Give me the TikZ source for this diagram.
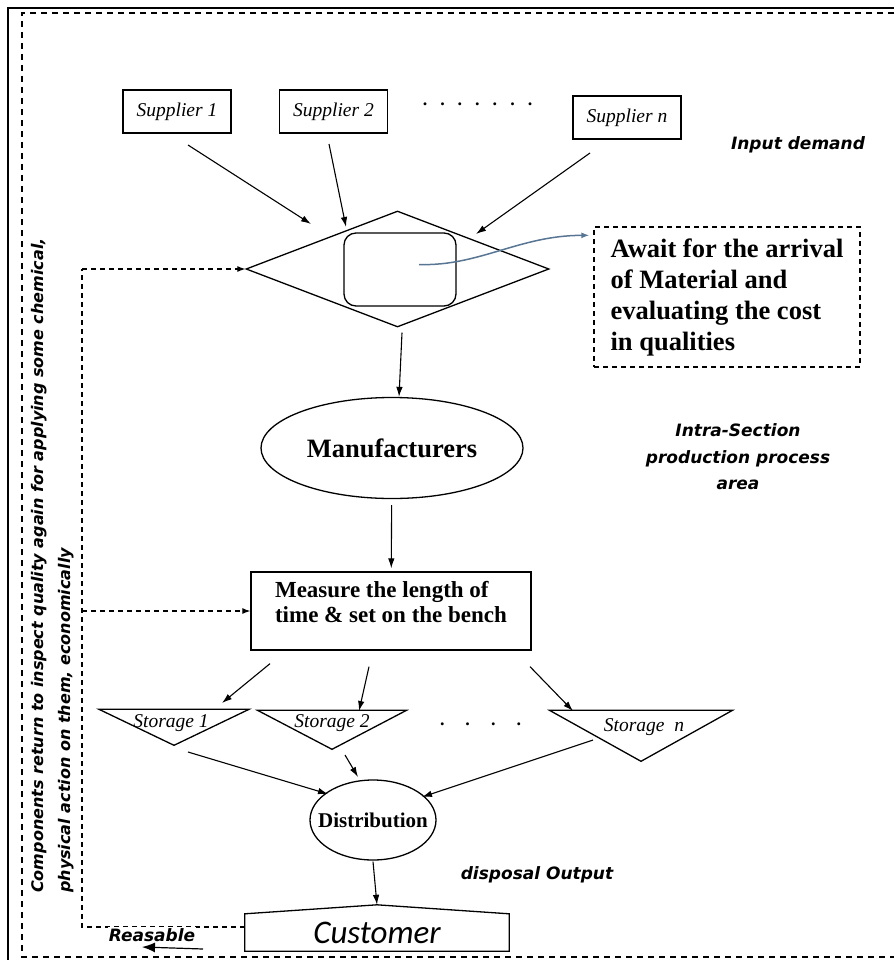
\documentclass[tikz,border=0pt]{standalone}
\usepackage{fontspec}
\setmainfont{Liberation Serif}
\newfontfamily\notefont{DejaVu Sans}
\newfontfamily\custfont{Carlito}
\usetikzlibrary{arrows.meta,shapes.geometric,positioning}
\definecolor{curveblue}{RGB}{88,118,148}

\tikzset{
  supplier/.style={draw, line width=1.3pt, minimum width=108pt, minimum height=43pt, inner sep=0pt, font=\fontsize{19.5}{22}\selectfont\itshape},
  storage/.style={draw, line width=1.3pt, isosceles triangle, isosceles triangle stretches, shape border rotate=270, inner sep=0pt, anchor=apex},
  storelabel/.style={font=\fontsize{19.5}{22}\selectfont\itshape, inner sep=0pt},
  flow/.style={-{Latex[length=10pt,width=6.5pt]}, line width=1.1pt},
  back/.style={line width=1.2pt, dash pattern=on 5pt off 4pt},
  backtip/.style={back, -{Latex[length=8pt,width=6pt]}},
  note/.style={font=\notefont\bfseries\itshape\fontsize{17}{26.5}\selectfont, align=center, inner sep=0pt},
  bigtext/.style={font=\bfseries\fontsize{26.5}{31}\selectfont},
  dotrow/.style={font=\bfseries\fontsize{18}{18}\selectfont, inner sep=0pt},
}

\begin{document}
\begin{tikzpicture}[x=1pt, y=-1pt]
\useasboundingbox (0,0) rectangle (894,960);
% frames
\draw[line width=1.5pt] (8,960) -- (8,8) -- (894,8);
\draw[line width=1.4pt, dash pattern=on 6pt off 5pt] (894,13) -- (22,13) -- (22,957) -- (894,957);

% input side
\node[supplier] (sup1) at (177,111.5) {Supplier 1};
\node[supplier] (sup2) at (333.5,111.5) {Supplier 2};
\node[supplier] (supn) at (627,117.5) {Supplier n};
\node[dotrow] (supdots) at (477.5,104) {.\hskip13pt.\hskip13pt.\hskip13pt.\hskip13pt.\hskip13pt.\hskip13pt.};
\node[note] (input) at (798,145) {Input demand};

\node[diamond, draw, line width=1.3pt, minimum width=303pt, minimum height=116pt, inner sep=0pt] (dia) at (397.5,269) {};
\node[draw, line width=1.3pt, rounded corners=12pt, minimum width=112pt, minimum height=73pt] (pool) at (400,269.5) {};
\node[draw, line width=1.3pt, dash pattern=on 5pt off 4pt, minimum width=266pt, minimum height=140pt, align=left, bigtext] (await) at (727,297) {Await for the arrival\\of Material and\\evaluating the cost\\in qualities};

\path[flow] ([shift={(11,33.5)}]sup1.center) edge ([shift={(-86.5,-45)}]dia.center)
    ([shift={(-4.5,32.5)}]sup2.center) edge ([shift={(-51.5,-42)}]dia.center)
    ([shift={(-37,35.5)}]supn.center) edge ([shift={(78.5,-35)}]dia.center);
\draw[-{Latex[length=8pt,width=6pt]}, line width=1.5pt, curveblue] ([shift={(19,-5)}]pool.center) .. controls +(60,2) and +(-70,0) .. ([shift={(-4,9)}]await.north west);

% production
\node[ellipse, draw, line width=1.3pt, minimum width=262pt, minimum height=101pt, inner sep=0pt, bigtext] (man) at (392,448) {Manufacturers};
\node[note] (intra) at (738,457) {Intra-Section\\production process\\area};
\node[draw, line width=1.3pt, minimum width=280pt, minimum height=78pt, align=left, font=\bfseries\fontsize{23}{25}\selectfont] (meas) at (391,611) {Measure the length of\\time \& set on the bench\rule[-18pt]{0pt}{0pt}};

\path[flow] ([shift={(4.5,5)}]dia.south) edge ([shift={(7,0)}]man.north)
    (man) edge [shorten <=6pt, shorten >=3pt] (meas);

% storage
\node[storage, minimum width=150pt, minimum height=36pt] (st1) at (174,747) {};
\node[storage, minimum width=149pt, minimum height=39pt] (st2) at (332,751) {};
\node[storage, minimum width=183pt, minimum height=51pt] (stn) at (641,763) {};
\node[storelabel] (lab1) at (171,723) {Storage 1};
\node[storelabel] (lab2) at (332,723) {Storage 2};
\node[storelabel] (labn) at (644,727) {Storage~~n};
\node[dotrow] (stdots) at (480.5,724) {.\hskip21pt.\hskip21pt.\hskip21pt.};

\node[ellipse, draw, line width=1.3pt, minimum width=126pt, minimum height=80pt, inner sep=0pt,
  label={[font=\bfseries\fontsize{21}{24}\selectfont]center:Distribution}] (dist) at (373,820) {};
\node[note] (output) at (537,875) {disposal Output};

\path[flow] ([shift={(-121,13)}]meas.south) edge ([shift={(51,-20)}]lab1.center)
    ([shift={(-22,16)}]meas.south) edge ([shift={(27,-12)}]lab2.center)
    ([shift={(139,16)}]meas.south) edge ([shift={(-71,-16)}]labn.center)
    ([shift={(17,29)}]lab1.center) edge ([shift={(-45,-26)}]dist.center)
    ([shift={(13,32)}]lab2.center) edge ([shift={(-15,-43)}]dist.center)
    ([shift={(-51,13)}]labn.center) edge ([shift={(49,-23)}]dist.center);

% customer
\node[minimum width=264pt, minimum height=37pt, inner sep=0pt, font=\custfont\itshape\fontsize{33}{36}\selectfont] (cust) at (377,932.5) {Customer};
\draw[line width=1.3pt] (cust.south west) -- (cust.north west) -- ([yshift=9pt]cust.north) -- (cust.north east) -- (cust.south east) -- cycle;
\draw[flow] ([yshift=-1pt]dist.south) -- ([yshift=9pt]cust.north);

% return path
\coordinate (turn) at (82,927);
\coordinate (rise) at (82,269);
\draw[back] ([yshift=5.5pt]cust.west) -- (turn) -- (rise);
\draw[backtip] (rise) -- (dia.west);
\draw[backtip] (turn |- meas.west) -- (meas.west);
\node[note, fill=white, inner sep=1pt] (reuse) at (152,935) {Reasable};
\draw[-{Latex[length=13pt,width=10pt]}, line width=1.2pt] ([shift={(51,14)}]reuse.center) -- ([shift={(-10,12)}]reuse.center);
\node[note, font=\notefont\bfseries\itshape\fontsize{16}{27}\selectfont, rotate=90, anchor=north west, align=left] (why) at (31,893) {Components return to inspect quality again for applying some chemical,\\physical action on them, economically};
\end{tikzpicture}
\end{document}
